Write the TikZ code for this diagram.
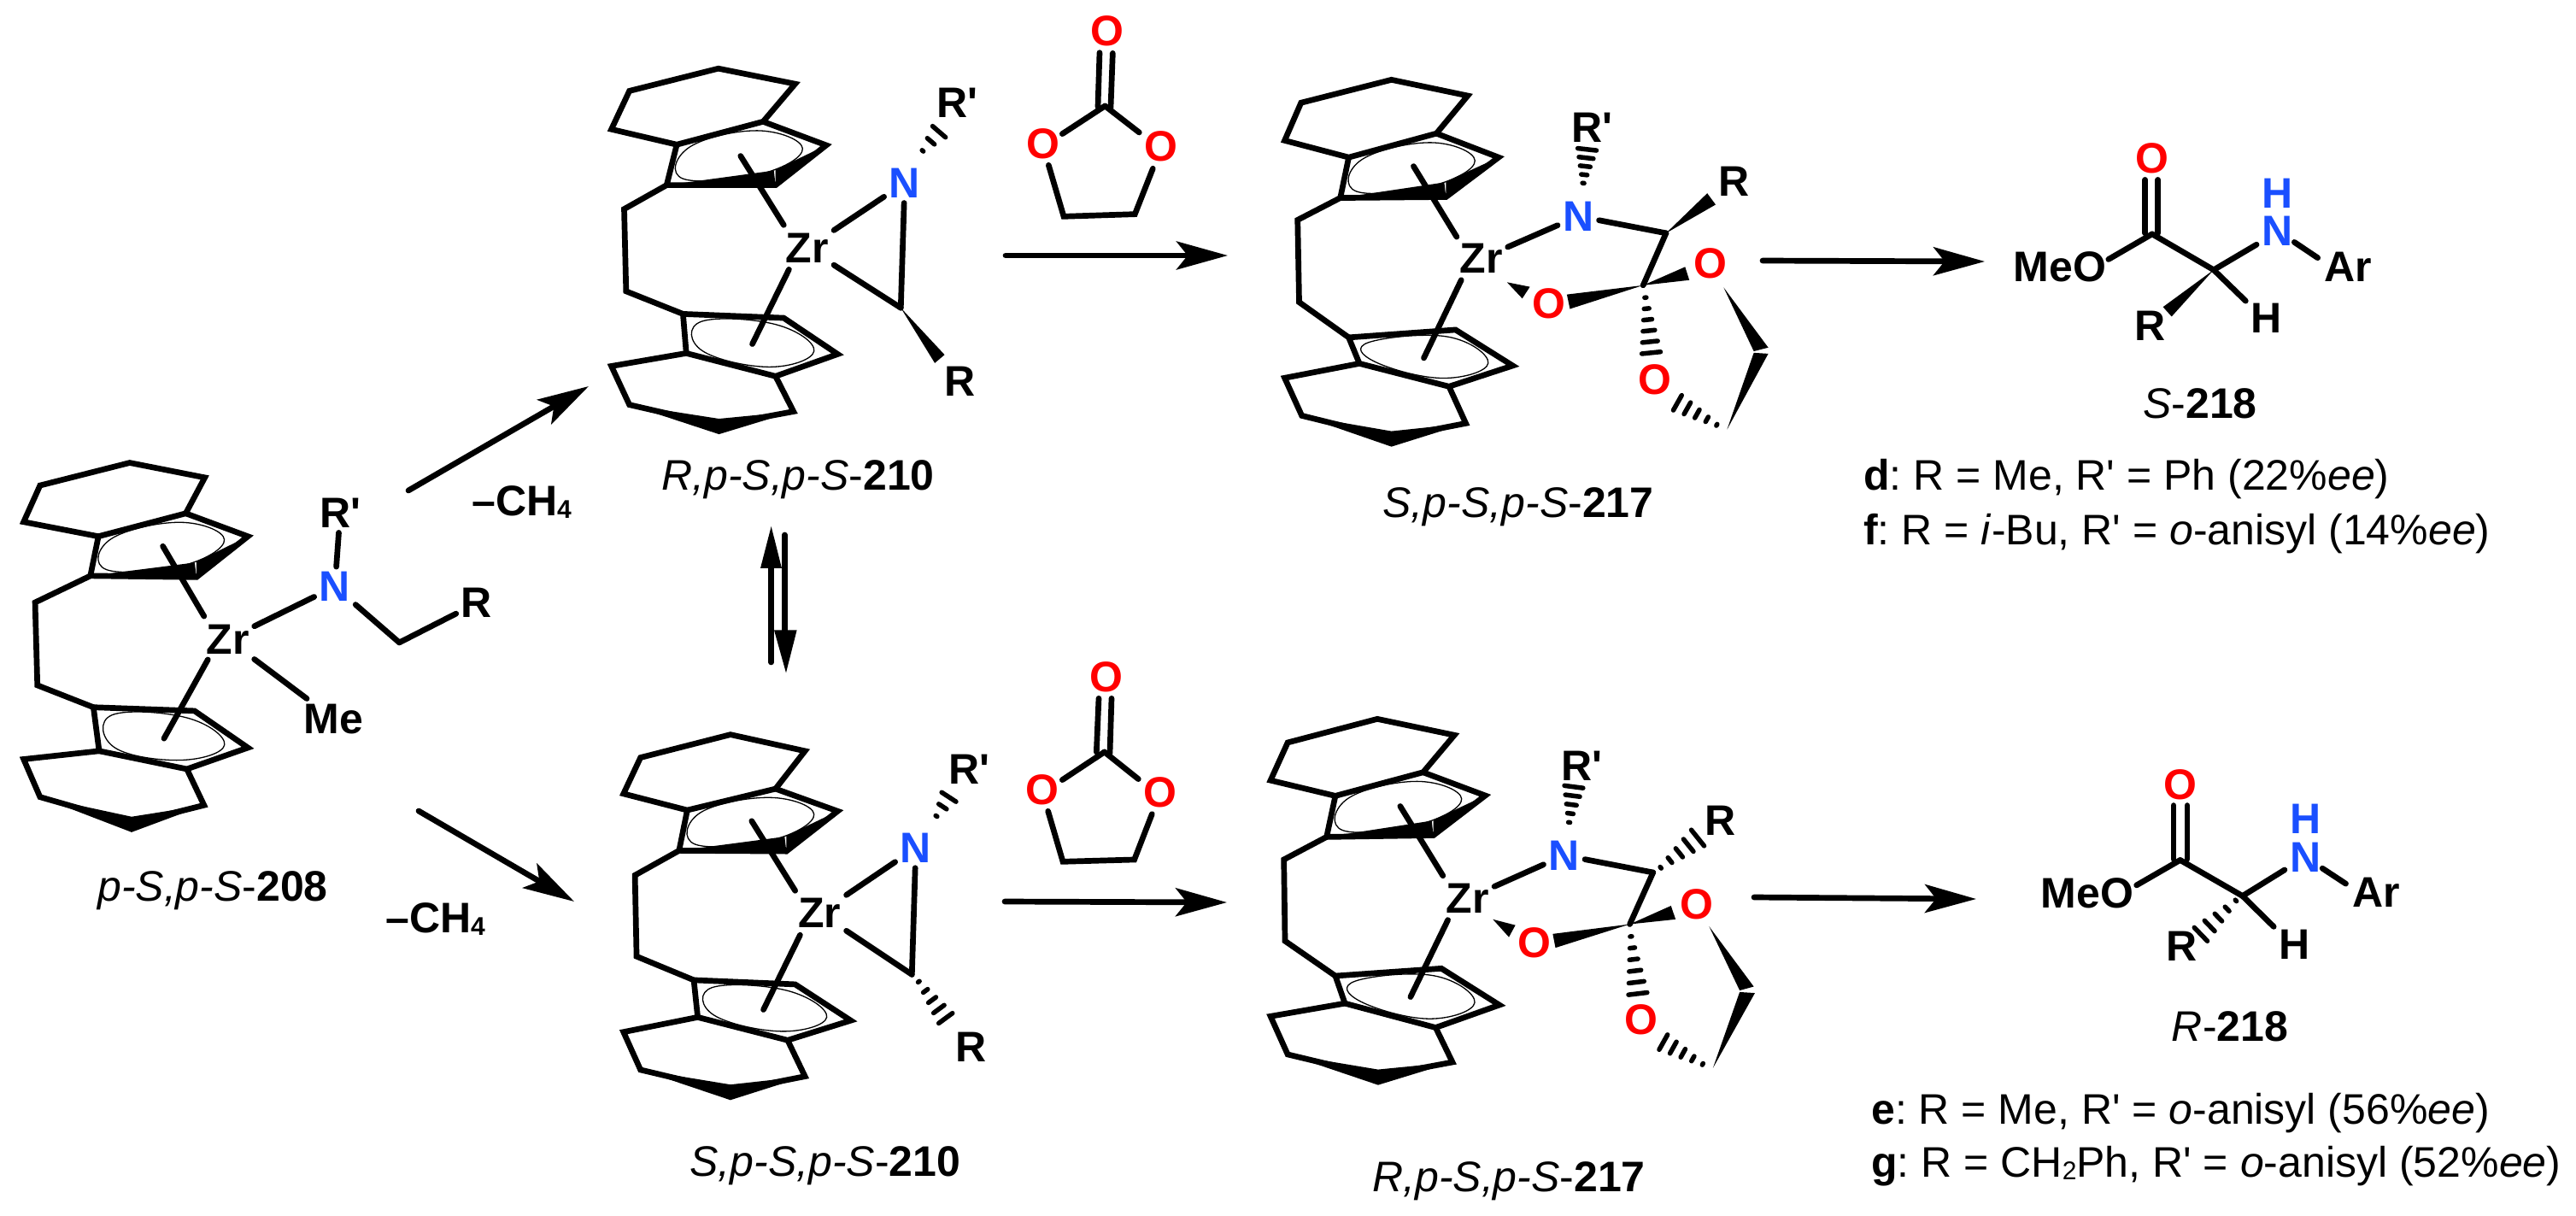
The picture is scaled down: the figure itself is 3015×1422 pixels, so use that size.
\documentclass[tikz,border=0pt]{standalone}
\usepackage{fontspec}
\usetikzlibrary{calc,arrows.meta}
\newfontfamily\lib{Liberation Sans}
\frenchspacing
\definecolor{nblue}{RGB}{26,79,255}
\definecolor{ored}{RGB}{255,0,0}
\tikzset{
  bond/.style={line width=6.7pt,line cap=round,line join=miter,black},
  hashs/.style={line width=5.5pt,line cap=round,black},
  ringline/.style={line width=1.3pt,black},
  atom/.style={font=\lib\bfseries\fontsize{50}{60}\selectfont,inner sep=6pt,text=black},
  nit/.style={text=nblue},
  oxy/.style={text=ored},
  lab/.style={font=\lib\fontsize{50}{60}\selectfont,inner sep=0pt,text=black},
  rx/.style={line width=6.7pt,line cap=round,black,-{Stealth[length=60pt,width=33pt,inset=13pt]}},
}
\newcommand{\pts}[1]{\foreach \n/\xx/\yy in {#1}{\coordinate (\n) at (\xx,\yy);}}
\newcommand{\bonds}[1]{\foreach \p/\q in {#1}{\draw[bond] (\p)--(\q);}}
\newcommand{\atm}[5][]{\node[atom,#1] (#2) at (#3,#4) {#5};}
\newcommand{\wdg}[3]{\fill[black] (#1)--(#2)--(#3)--cycle;}
\newcommand{\hashb}[5]{%
  \coordinate (hb) at ($(#1)!1.5!(#2)$);
  \foreach \i in {1,...,#3}{%
    \pgfmathsetmacro\tp{(\i-1)/(#3-1)}%
    \pgfmathsetmacro\hw{#4+(#5-#4)*\tp}%
    \coordinate (hc) at ($(#1)!\tp!(#2)$);
    \draw[hashs] ($(hc)!\hw pt!90:(hb)$)--($(hc)!\hw pt!-90:(hb)$);
  }}
\newcommand{\core}{%
  \coordinate (cT) at ($0.2*(E)+0.2*(D)+0.2*(G)+0.2*(H)+0.2*(I)$);
  \coordinate (cB) at ($0.2*(J)+0.2*(K)+0.2*(L)+0.2*(M)+0.2*(N)$);
  \coordinate (r1) at ($(cT)!.80!(E)$);
  \coordinate (r2) at ($(cT)!.74!(D)$);
  \coordinate (r3) at ($(cT)!.72!(G)$);
  \coordinate (r4) at ($(cT)!.60!(H)$);
  \coordinate (r5) at ($(cT)!.78!(I)$);
  \coordinate (s1) at ($(cB)!.74!(J)$);
  \coordinate (s2) at ($(cB)!.74!(K)$);
  \coordinate (s3) at ($(cB)!.72!(L)$);
  \coordinate (s4) at ($(cB)!.72!(M)$);
  \coordinate (s5) at ($(cB)!.76!(N)$);
  \draw[ringline] plot[smooth cycle,tension=.7] coordinates {(r1)(r2)(r3)(r4)(r5)};
  \draw[ringline] plot[smooth cycle,tension=.7] coordinates {(s1)(s2)(s3)(s4)(s5)};
  \draw[bond] (A)--(B)--(C)--(D)--(E)--(F)--cycle;
  \draw[bond] (D)--(G)--(H)--(I)--(E);
  \fill[black] (I)--(H)--([shift={(-2pt,17pt)}]H)--cycle;
  \fill[black] (G)--(H)--([shift={(0pt,18pt)}]H)--cycle;
  \draw[bond] (I)--(B1)--(B2)--(J);
  \draw[bond] (J)--(K)--(L)--(M)--(N)--cycle;
  \draw[bond] (N)--(O)--(P)--(Q)--(W)--(M);
  \fill[black] (P)--([yshift=7.7pt]Q)--(W)--([yshift=-10.4pt]Q)--cycle;
  \draw[bond] (ct1)--(ct2);
  \draw[bond] (cb1)--(cb2);
}
\begin{document}
\begin{tikzpicture}[x=1pt,y=-1pt]
\useasboundingbox (0,0) rectangle (3015,1422);
\fill[white] (0,0) rectangle (3015,1422);

%% ---------- p-S,p-S-208
\begin{scope}[name prefix=m1-,shift={(0pt,-500pt)},x=.4464pt,y=-.3846pt]
  \pts{A/105/177,B/340/108,C/537/153,D/487/262,E/258/332,F/62/288,G/650/332,H/515/456,I/237/452,
       B1/92/533,B2/98/785,J/245/852,K/510/863,L/650/975,M/490/1040,N/260/985,O/62/1010,P/105/1125,Q/345/1205,W/535/1150,
       ct1/427/362,ct2/535/575,cb1/545/707,cb2/430/947,c/1047/655}
  \core
  \atm{zr}{597}{645}{Zr}
  \atm[nit]{nn}{878}{485}{N}
  \atm{rp}{892}{260}{R'}
  \atm{rr}{1250}{535}{R}
  \atm{me}{875}{887}{Me}
  \bonds{zr/nn,nn/rp,nn/c,c/rr,zr/me}
\end{scope}

%% ---------- R,p-S,p-S-210
\begin{scope}[name prefix=m2-,shift={(680pt,-40pt)},x=.3827pt,y=-.3590pt]
  \pts{A/148/185,B/420/112,C/655/162,D/557/285,E/293/360,F/93/310,G/750/362,H/595/492,I/262/492,
       B1/132/570,B2/138/838,J/312/912,K/620/925,L/785/1043,M/595/1115,N/322/1040,O/93/1082,P/148/1208,Q/422/1275,W/650/1230,
       ct1/488/397,ct2/620/622,cb1/636/767,cb2/524/1010,c/978/892,
       w1/1112/1045,w2/1082/1072,h1/1045/380,h2/1095/318}
  \core
  \atm{zr}{692}{697}{Zr}
  \atm[nit]{nn}{990}{485}{N}
  \atm{rp}{1150}{225}{R'}
  \atm{rr}{1158}{1133}{R}
  \bonds{zr/nn,nn/c,zr/c}
  \wdg{c}{w1}{w2}
  \hashb{h1}{h2}{3}{1}{10}
\end{scope}

%% ---------- S,p-S,p-S-210
\begin{scope}[name prefix=m3-,shift={(680pt,-800pt)},x=.3827pt,y=-.3846pt]
  \pts{A/182/225,B/457/155,C/685/205,D/595/320,E/325/385,F/130/335,G/785/388,H/628/510,I/300/508,
       B1/165/583,B2/170/830,J/345/902,K/655/915,L/825/1025,M/632/1085,N/357/1015,O/130/1060,P/182/1175,Q/457/1240,W/685/1195,
       ct1/522/418,ct2/655/630,cb1/670/765,cb2/558/992,c/1012/885,
       h1/1033/907,h2/1115/1018,h3/1087/403,h4/1125/345}
  \core
  \atm{zr}{730}{698}{Zr}
  \atm[nit]{nn}{1024}{500}{N}
  \atm{rp}{1188}{260}{R'}
  \atm{rr}{1192}{1105}{R}
  \bonds{zr/nn,nn/c,zr/c}
  \hashb{h1}{h2}{5}{1}{10}
  \hashb{h3}{h4}{3}{1}{10}
\end{scope}

%% ---------- S,p-S,p-S-217
\begin{scope}[name prefix=m4-,shift={(1400pt,-70pt)},x=.4464pt,y=-.3590pt]
  \pts{A/275/140,B/512/65,C/712/117,D/630/240,E/400/318,F/232/263,G/793/318,H/655/447,I/378/450,
       B1/266/522,B2/270/790,J/400/905,K/680/880,L/830/997,M/663/1065,N/428/990,O/232/1037,P/277/1160,Q/512/1232,W/707/1185,
       ct1/570/347,ct2/683/577,cb1/695/718,cb2/597/972,
       c1/1232/565,c2/1172/735,w1/1340/435,w2/1362/472,
       z1/815/725,z2/875/740,z3/855/778,
       o1a/972/765,o1b/980/812,o3a/1282/675,o3b/1293/718,
       h1/1178/775,h2/1193/955,h3/1015/402,h4/1025/292,
       f1/1383/742,f2/1500/938,f3/1462/950,
       g1/1392/1205,g2/1462/955,g3/1500/958,
       h5/1365/1190,h6/1262/1118}
  \core
  \atm{zr}{747}{648}{Zr}
  \atm[nit]{nn}{1002}{510}{N}
  \atm{rp}{1038}{222}{R'}
  \atm{rr}{1410}{395}{R}
  \atm[oxy]{o1}{925}{795}{O}
  \atm[oxy]{o3}{1348}{665}{O}
  \atm[oxy]{o4}{1203}{1043}{O}
  \bonds{zr/nn,nn/c1,c1/c2}
  \wdg{c1}{w1}{w2}
  \wdg{z1}{z2}{z3}
  \wdg{c2}{o1a}{o1b}
  \wdg{c2}{o3a}{o3b}
  \wdg{f1}{f2}{f3}
  \wdg{g1}{g2}{g3}
  \hashb{h1}{h2}{6}{1}{11}
  \hashb{h3}{h4}{5}{1}{11}
  \hashb{h5}{h6}{5}{1}{10}
\end{scope}

%% ---------- R,p-S,p-S-217
\begin{scope}[name prefix=m5-,shift={(1400pt,-830pt)},x=.4464pt,y=-.3782pt]
  \pts{A/240/103,B/475/30,C/677/80,D/595/195,E/365/268,F/195/220,G/758/267,H/622/390,I/342/395,
       B1/230/465,B2/233/717,J/365/825,K/643/802,L/795/915,M/628/985,N/390/910,O/195/950,P/240/1068,Q/477/1135,W/672/1092,
       ct1/535/300,ct2/647/515,cb1/660/652,cb2/562/890,
       c1/1198/505,c2/1137/665,
       z1/778/650,z2/837/668,z3/820/705,
       o1a/935/695,o1b/942/738,o3a/1245/608,o3b/1257/650,
       h1/1140/703,h2/1158/880,h3/978/350,h4/990/240,
       h7/1218/490,h8/1315/398,
       f1/1345/672,f2/1462/858,f3/1425/870,
       g1/1355/1110,g2/1425/875,g3/1465/878,
       h5/1328/1098,h6/1225/1030}
  \core
  \atm{zr}{712}{585}{Zr}
  \atm[nit]{nn}{965}{452}{N}
  \atm{rp}{1012}{175}{R'}
  \atm{rr}{1375}{345}{R}
  \atm[oxy]{o1}{888}{722}{O}
  \atm[oxy]{o3}{1312}{603}{O}
  \atm[oxy]{o4}{1166}{960}{O}
  \bonds{zr/nn,nn/c1,c1/c2}
  \wdg{z1}{z2}{z3}
  \wdg{c2}{o1a}{o1b}
  \wdg{c2}{o3a}{o3b}
  \wdg{f1}{f2}{f3}
  \wdg{g1}{g2}{g3}
  \hashb{h1}{h2}{6}{1}{11}
  \hashb{h3}{h4}{5}{1}{11}
  \hashb{h7}{h8}{5}{1}{12}
  \hashb{h5}{h6}{5}{1}{10}
\end{scope}

%% ---------- S-218
\begin{scope}[name prefix=m6-,shift={(2300pt,-130pt)},x=.4560pt,y=-.3526pt]
  \pts{c1/480/408,c2/638/527,d1/462/228,d2/462/405,d3/495/228,d4/495/405,mo/368/492,na/748/443,nb/845/435,ar/905/487,hb2/720/630,w1/508/650,w2/530/682}
  \atm[oxy]{oo}{480}{158}{O}
  \atm{meo}{243}{517}{MeO}
  \atm[nit]{nn}{802}{397}{N}
  \atm[nit]{hh}{802}{272}{H}
  \atm{arn}{982}{517}{Ar}
  \atm{hn}{773}{688}{H}
  \atm{rr}{475}{713}{R}
  \bonds{d1/d2,d3/d4,c1/mo,c1/c2,c2/na,nb/ar,c2/hb2}
  \wdg{c2}{w1}{w2}
\end{scope}

%% ---------- R-218
\begin{scope}[name prefix=m7-,shift={(2300pt,-860pt)},x=.4560pt,y=-.3590pt]
  \pts{c1/552/408,c2/712/525,d1/535/230,d2/535/405,d3/570/230,d4/570/405,mo/440/490,na/820/440,nb/917/435,ar/977/485,hb2/792/625,h1/695/540,h2/605/650}
  \atm[oxy]{oo}{553}{162}{O}
  \atm{meo}{313}{515}{MeO}
  \atm[nit]{nn}{873}{400}{N}
  \atm[nit]{hh}{873}{275}{H}
  \atm{arn}{1055}{513}{Ar}
  \atm{hn}{845}{683}{H}
  \atm{rr}{556}{688}{R}
  \bonds{d1/d2,d3/d4,c1/mo,c1/c2,c2/na,nb/ar,c2/hb2}
  \hashb{h1}{h2}{5}{1}{11}
\end{scope}

%% ---------- ethylene carbonate, top
\begin{scope}[name prefix=m8-,shift={(1150pt,0pt)},x=.3333pt,y=-.3333pt]
  \pts{d1/411/185,d2/405/375,d3/457/187,d4/450/378,c/430/372,b1/280/470,b2/550/465,e1/232/580,e2/285/760,e3/535/752,e4/598/592}
  \atm[oxy]{oa}{438}{110}{O}
  \atm[oxy]{ob}{213}{505}{O}
  \atm[oxy]{oc}{627}{515}{O}
  \bonds{d1/d2,d3/d4,c/b1,c/b2}
  \draw[bond] (e1)--(e2)--(e3)--(e4);
\end{scope}

%% ---------- ethylene carbonate, bottom
\begin{scope}[name prefix=m9-,shift={(1150pt,-740pt)},x=.3333pt,y=-.3333pt]
  \pts{d1/408/232,d2/400/420,d3/453/232,d4/447/425,c/428/420,b1/280/518,b2/547/515,e1/230/628,e2/282/805,e3/533/798,e4/595/638}
  \atm[oxy]{oa}{435}{158}{O}
  \atm[oxy]{ob}{210}{553}{O}
  \atm[oxy]{oc}{624}{562}{O}
  \bonds{d1/d2,d3/d4,c/b1,c/b2}
  \draw[bond] (e1)--(e2)--(e3)--(e4);
\end{scope}

%% ---------- equilibrium arrows
\begin{scope}[name prefix=eq-,shift={(800pt,-540pt)},x=.3333pt,y=-.3333pt]
  \pts{a1/308/705,a2/308/370,at/308/228,al/270/375,ar/345/375,b1/355/258,b2/355/595,bt/360/742,bl/318/592,br/398/592}
  \bonds{a1/a2,b1/b2}
  \wdg{at}{al}{ar}
  \wdg{bt}{bl}{br}
\end{scope}

%% ---------- reaction arrows
\pts{a1s/478/574,a1e/689/452,a2s/490/949,a2e/672/1055,a3s/1177/299,a3e/1437/299,a4s/2063/305,a4e/2323/306,
     a5s/1176/1055,a5e/1436/1056,a6s/2053/1050,a6e/2313/1052}
\draw[rx] (a1s)--(a1e);
\draw[rx] (a2s)--(a2e);
\draw[rx] (a3s)--(a3e);
\draw[rx] (a4s)--(a4e);
\draw[rx] (a5s)--(a5e);
\draw[rx] (a6s)--(a6e);

%% ---------- texts
\newcommand{\chfour}{\textbf{–CH\raisebox{-3pt}{\fontsize{30}{30}\selectfont 4}}}
\node[lab,anchor=base west] (ch1) at (552,603) {\chfour};
\node[lab,anchor=base west] (ch2) at (451,1091) {\chfour};
\node[lab,anchor=base] (l208) at (249,1054) {\textit{p-S,p-S}-\textbf{208}};
\node[lab,anchor=base] (l210a) at (934,573) {\textit{R,p-S,p-S}-\textbf{210}};
\node[lab,anchor=base] (l210b) at (966,1376) {\textit{S,p-S,p-S}-\textbf{210}};
\node[lab,anchor=base] (l217a) at (1777,605) {\textit{S,p-S,p-S}-\textbf{217}};
\node[lab,anchor=base] (l217b) at (1766,1394) {\textit{R,p-S,p-S}-\textbf{217}};
\node[lab,anchor=base] (l218a) at (2575,489) {\textit{S}-\textbf{218}};
\node[lab,anchor=base] (l218b) at (2610,1218) {\textit{R}-\textbf{218}};
\node[lab,anchor=base west] (td) at (2181,573) {\textbf{d}: R = Me, R' = Ph (22\%\textit{ee})};
\node[lab,anchor=base west] (tf) at (2181,637) {\textbf{f}: R = \textit{i}-Bu, R' = \textit{o}-anisyl (14\%\textit{ee})};
\node[lab,anchor=base west] (te) at (2190,1315) {\textbf{e}: R = Me, R' = \textit{o}-anisyl (56\%\textit{ee})};
\node[lab,anchor=base west] (tg) at (2190,1377) {\textbf{g}: R = CH\raisebox{-3pt}{\fontsize{30}{30}\selectfont 2}Ph, R' = \textit{o}-anisyl (52\%\textit{ee})};
\end{tikzpicture}
\end{document}
